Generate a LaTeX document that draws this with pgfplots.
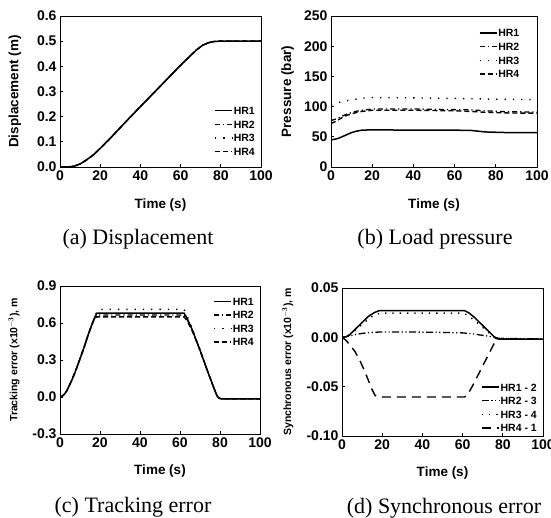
\documentclass[border=0pt]{standalone}
\usepackage{fontspec}
\setmainfont{Liberation Serif}
\setsansfont{Liberation Sans}
\usepackage{pgfplots}
\pgfplotsset{compat=1.18}
\usepackage{pgfplotstable}

% (a) displacement, same for all four cylinders
\pgfplotstableread{
t y
0 0
4 0
7 0.003
10 0.012
13 0.027
16.6 0.048
20 0.074
25 0.114
33 0.182
40 0.240
45 0.281
50 0.322
58 0.388
62 0.420
65 0.443
68 0.466
71 0.484
74 0.494
77 0.499
80 0.5
100 0.5
}\disp

% (b) load pressure
\pgfplotstableread{
t h1 h2 h3 h4
0 45 77 103 72
2 46 79 105 75
4 48 82 107 79
6 51 85 109 83
8 54 88 110 86
10 57 90 111 88
12 59 92 112 90
15 61 94 114 92
20 61.5 96 115 94
40 61 96 114.5 94
60 61 95 113.5 93
68 60.5 94.5 113 92
75 58 93 112.5 90.5
85 57 91.5 112 89.5
100 57 91 111.5 89
}\pres

% (c) tracking error
\pgfplotstableread{
t h1 h2 h3 h4
0 0 0 0 0
1 0.005 0.005 0.005 0.005
2 0.02 0.02 0.02 0.02
3 0.04 0.04 0.04 0.04
4 0.07 0.07 0.07 0.07
6 0.14 0.14 0.14 0.14
8 0.22 0.22 0.22 0.22
10 0.31 0.31 0.31 0.31
12 0.40 0.40 0.40 0.40
14 0.50 0.50 0.50 0.50
16 0.59 0.59 0.59 0.59
17.5 0.65 0.645 0.66 0.64
18.5 0.68 0.665 0.69 0.65
19.5 0.68 0.665 0.71 0.65
62 0.68 0.665 0.71 0.65
63.5 0.64 0.63 0.66 0.62
66 0.55 0.55 0.56 0.54
70 0.38 0.38 0.38 0.38
74 0.20 0.20 0.20 0.20
77 0.07 0.07 0.07 0.07
78.5 0.01 0.01 0.01 0.01
79.5 -0.01 -0.01 -0.01 -0.01
81 -0.015 -0.015 -0.015 -0.015
100 -0.015 -0.015 -0.015 -0.015
}\track

% (d) synchronous error
\pgfplotstableread{
t y
0 0
2 0.0005
4 0.003
7 0.009
10 0.015
13 0.021
16 0.025
18.5 0.027
61 0.027
63 0.025
66 0.020
70 0.012
74 0.004
76.5 -0.001
78 -0.0017
100 -0.0017
}\syncA
\pgfplotstableread{
t y
0 0
3 0.001
6 0.0025
10 0.004
15 0.005
20 0.0055
30 0.0055
50 0.005
60 0.0045
65 0.0035
70 0.002
75 0.0005
78 -0.001
100 -0.0017
}\syncB
\pgfplotstableread{
t y
0 0
3 0.001
6 0.006
10 0.013
14 0.020
17 0.0235
20 0.0245
60 0.0245
62 0.023
66 0.017
70 0.010
74 0.003
77 -0.001
100 -0.0017
}\syncC
\pgfplotstableread{
t y
0 0
2 -0.003
4 -0.008
6.5 -0.0145
9 -0.024
11 -0.033
13 -0.043
15 -0.053
16.5 -0.059
18 -0.0605
61 -0.0605
62.5 -0.058
65 -0.049
68 -0.037
71 -0.025
74 -0.013
76.5 -0.003
78 -0.0017
100 -0.0017
}\syncD

\pgfplotsset{
  panel/.style={
    scale only axis,
    anchor=south west,
    xmin=0, xmax=100, xtick={0,20,40,60,80,100},
    tick align=inside, tick pos=left, major tick length=3pt,
    axis line style={line width=0.8pt},
    every tick/.style={line width=0.7pt, black},
    tick label style={font=\sffamily\bfseries\fontsize{14}{14}\selectfont},
    /pgf/number format/assume math mode=true,
    label style={font=\sffamily\bfseries\fontsize{13.5}{13.5}\selectfont},
    xlabel={Time (s)},
    xlabel style={at={(axis description cs:0.5,-0.25)}, anchor=center},
    legend cell align=left,
    legend style={draw=none, fill=none, inner sep=0pt,
      font=\sffamily\bfseries\fontsize{10.5}{10.5}\selectfont, row sep=4pt,
      nodes={inner sep=1pt, text height=7.6pt, text depth=0pt}},
    legend image code/.code={\draw[##1] (0pt,0pt) -- (17pt,0pt);},
  },
  s1/.style={black, line width=1.5pt},
  s2/.style={black, line width=1.3pt, dash pattern=on 5pt off 3pt on 1.2pt off 3pt},
  s3/.style={black, line width=1.4pt, dash pattern=on 1.3pt off 7pt},
  s4/.style={black, line width=1.4pt, dash pattern=on 5pt off 3pt},
}

\begin{document}
\begin{tikzpicture}
\useasboundingbox (0,0) rectangle (551pt,518pt);

% (a)
\begin{axis}[panel, at={(60pt,351pt)}, width=201pt, height=151pt,
  ymin=0, ymax=0.6, ytick={0,0.1,0.2,0.3,0.4,0.5,0.6},
  yticklabel style={/pgf/number format/.cd, fixed, fixed zerofill, precision=1},
  ylabel={Displacement (m)},
  ylabel style={at={(axis description cs:-0.224,0.5)}, anchor=center},
  legend style={at={(0.975,0.07)}, anchor=south east}]
\addplot[s1] table[x=t, y=y] {\disp}; \addlegendentry{HR1}
\addplot[s2] table[x=t, y=y] {\disp}; \addlegendentry{HR2}
\addplot[s3] table[x=t, y=y] {\disp}; \addlegendentry{HR3}
\addplot[s4] table[x=t, y=y] {\disp}; \addlegendentry{HR4}
\end{axis}

% (b)
\begin{axis}[panel, at={(331pt,351pt)}, width=206pt, height=151pt,
  ymin=0, ymax=250, ytick={0,50,100,150,200,250},
  ylabel={Pressure (bar)},
  ylabel style={at={(axis description cs:-0.21,0.5)}, anchor=center},
  legend style={at={(0.92,0.92)}, anchor=north east}]
\addplot[s1] table[x=t, y=h1] {\pres}; \addlegendentry{HR1}
\addplot[s2] table[x=t, y=h2] {\pres}; \addlegendentry{HR2}
\addplot[s3] table[x=t, y=h3] {\pres}; \addlegendentry{HR3}
\addplot[s4] table[x=t, y=h4] {\pres}; \addlegendentry{HR4}
\end{axis}

% (c)
\begin{axis}[panel, at={(60pt,84pt)}, width=200pt, height=148pt,
  ymin=-0.3, ymax=0.9, ytick={-0.3,0,0.3,0.6,0.9},
  yticklabel style={/pgf/number format/.cd, fixed, fixed zerofill, precision=1},
  ylabel={Tracking error (x10$^{\mathbf{-3}}$), m},
  ylabel style={at={(axis description cs:-0.23,0.5)}, anchor=center,
    font=\sffamily\bfseries\fontsize{10.5}{10.5}\selectfont},
  legend style={at={(0.975,0.93)}, anchor=north east}]
\addplot[s1] table[x=t, y=h1] {\track}; \addlegendentry{HR1}
\addplot[s2] table[x=t, y=h2] {\track}; \addlegendentry{HR2}
\addplot[s3] table[x=t, y=h3] {\track}; \addlegendentry{HR3}
\addplot[s4] table[x=t, y=h4] {\track}; \addlegendentry{HR4}
\end{axis}

% (d)
\begin{axis}[panel, at={(342pt,82pt)}, width=201pt, height=148pt,
  ymin=-0.1, ymax=0.05, ytick={-0.1,-0.05,0,0.05},
  yticklabel style={/pgf/number format/.cd, fixed, fixed zerofill, precision=2},
  ylabel={Synchronous error (x10$^{\mathbf{-3}}$), m},
  ylabel style={at={(axis description cs:-0.27,0.5)}, anchor=center,
    font=\sffamily\bfseries\fontsize{10.5}{10.5}\selectfont},
  legend style={at={(0.975,0.02)}, anchor=south east}]
\addplot[s1] table[x=t, y=y] {\syncA}; \addlegendentry{HR1 - 2}
\addplot[black, line width=1.3pt, dash pattern=on 7pt off 2.5pt on 1.2pt off 2.5pt on 1.2pt off 2.5pt] table[x=t, y=y] {\syncB}; \addlegendentry{HR2 - 3}
\addplot[black, line width=1.4pt, dash pattern=on 1.3pt off 6pt] table[x=t, y=y] {\syncC}; \addlegendentry{HR3 - 4}
\addplot[black, line width=1.4pt, dash pattern=on 9pt off 6pt] table[x=t, y=y] {\syncD}; \addlegendentry{HR4 - 1}
\end{axis}

% captions
\begin{scope}[every node/.style={font=\fontsize{22}{22}\selectfont, anchor=base}]
\node at (138pt,273pt) {(a) Displacement};
\node at (435pt,273pt) {(b) Load pressure};
\node at (133pt,5pt) {(c) Tracking error};
\node at (444pt,4pt) {(d) Synchronous error};
\end{scope}
\end{tikzpicture}
\end{document}
